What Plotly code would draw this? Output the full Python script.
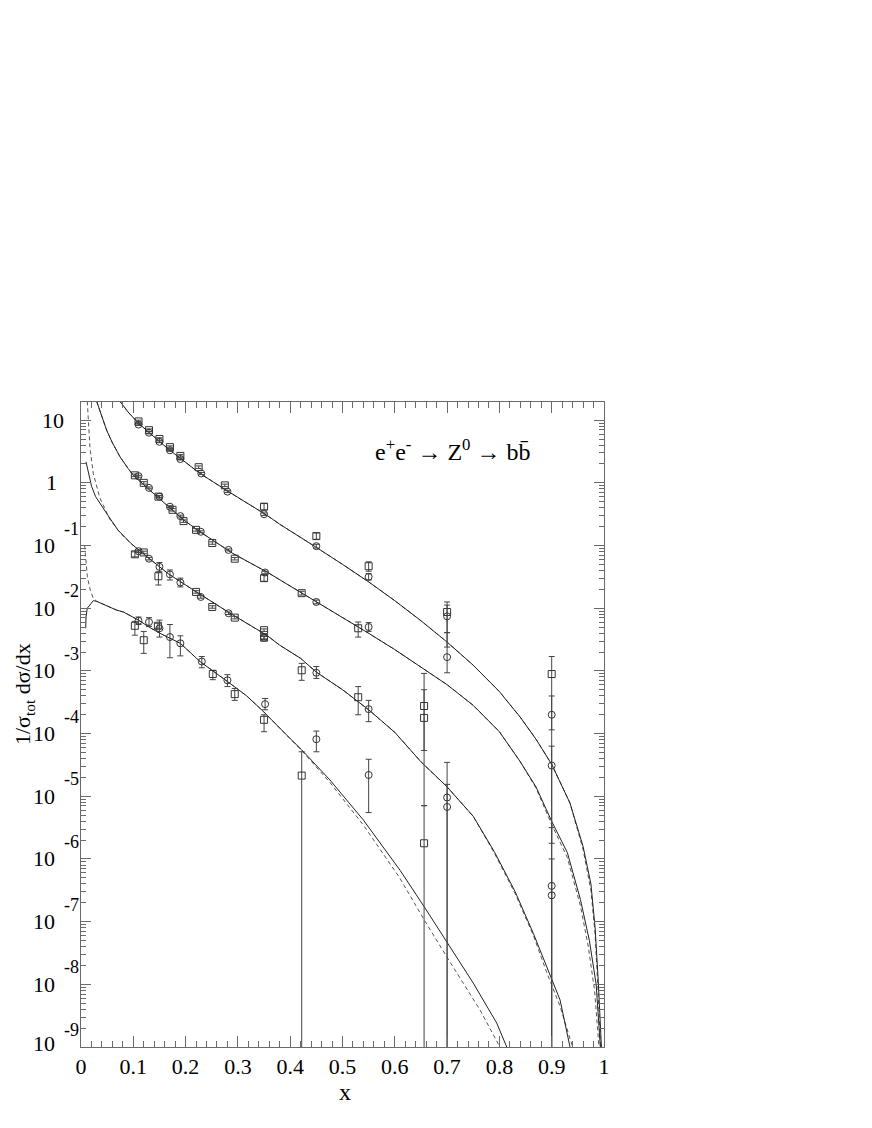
import numpy as np
import plotly.graph_objects as go

FONT = "Liberation Serif, Times New Roman, DejaVu Serif, serif"

# ---------------- MC curves: x and log10(1/sigma dsigma/dx) ----------------
curveA_x = [0.0746, 0.09, 0.11, 0.13, 0.15, 0.17, 0.19, 0.2275, 0.282, 0.355, 0.38, 0.419, 0.45, 0.50,
            0.55, 0.60, 0.65, 0.70, 0.75, 0.80, 0.84, 0.87, 0.90, 0.935, 0.96, 0.975, 0.983, 0.989, 0.995, 0.998]
curveA_logy = [1.30, 1.13, 0.95, 0.80, 0.66, 0.52, 0.39, 0.15, -0.14, -0.515, -0.66, -0.86, -1.03, -1.30,
               -1.58, -1.88, -2.20, -2.54, -2.91, -3.33, -3.74, -4.09, -4.49, -5.11, -5.80, -6.40, -7.10, -7.95, -9.0, -9.5]
curveA_dash_x = [0.0746, 0.09, 0.11, 0.13, 0.15, 0.17, 0.19, 0.2275, 0.282, 0.355, 0.38, 0.419, 0.45, 0.50,
                 0.55, 0.60, 0.65, 0.70, 0.75, 0.80, 0.84, 0.87, 0.90, 0.935, 0.96, 0.975, 0.983, 0.988, 0.993, 0.996]
curveA_dash_logy = [1.30, 1.13, 0.95, 0.80, 0.66, 0.52, 0.39, 0.15, -0.14, -0.515, -0.66, -0.86, -1.03, -1.30,
                    -1.58, -1.88, -2.20, -2.54, -2.91, -3.33, -3.74, -4.09, -4.49, -5.11, -5.85, -6.50, -7.20, -8.0, -9.0, -9.5]

curveB_x = [0.030, 0.04, 0.049, 0.06, 0.0746, 0.09, 0.10, 0.132, 0.164, 0.196, 0.2275, 0.26, 0.291, 0.355, 0.419,
            0.45, 0.50, 0.55, 0.60, 0.65, 0.70, 0.75, 0.80, 0.84, 0.87, 0.90, 0.93, 0.955, 0.972, 0.985, 0.993, 0.997]
curveB_logy = [1.30, 1.07, 0.84, 0.64, 0.415, 0.23, 0.12, -0.12, -0.36, -0.59, -0.78, -0.96, -1.13, -1.42, -1.74,
               -1.90, -2.15, -2.40, -2.66, -2.94, -3.22, -3.55, -3.97, -4.45, -4.85, -5.40, -5.90, -6.65, -7.30, -8.0, -9.0, -9.5]
curveB_dash_x = [0.030, 0.04, 0.049, 0.06, 0.0746, 0.09, 0.10, 0.132, 0.164, 0.196, 0.2275, 0.26, 0.291, 0.355, 0.419,
                 0.45, 0.50, 0.55, 0.60, 0.65, 0.70, 0.75, 0.80, 0.84, 0.87, 0.90, 0.93, 0.955, 0.970, 0.982, 0.990, 0.995]
curveB_dash_logy = [1.30, 1.07, 0.84, 0.64, 0.415, 0.23, 0.12, -0.12, -0.36, -0.59, -0.78, -0.96, -1.13, -1.42, -1.74,
                    -1.90, -2.15, -2.40, -2.66, -2.94, -3.22, -3.55, -3.97, -4.45, -4.87, -5.45, -5.98, -6.75, -7.40, -8.1, -9.0, -9.5]

curveC_x = [0.0096, 0.015, 0.0204, 0.028, 0.036, 0.05, 0.0707, 0.096, 0.122, 0.151, 0.166, 0.215, 0.285, 0.355,
            0.38, 0.42, 0.45, 0.50, 0.55, 0.60, 0.65, 0.70, 0.75, 0.79, 0.83, 0.865, 0.89, 0.916, 0.935, 0.94]
curveC_logy = [0.335, 0.12, -0.06, -0.22, -0.33, -0.50, -0.754, -0.97, -1.15, -1.34, -1.445, -1.71, -2.08, -2.43,
               -2.59, -2.80, -3.02, -3.30, -3.62, -3.98, -4.45, -4.85, -5.32, -5.88, -6.52, -7.19, -7.72, -8.25, -9.0, -9.3]
curveC_dash_x = [0.012, 0.014, 0.0172, 0.0235, 0.036, 0.055, 0.075, 0.096, 0.122, 0.151, 0.166, 0.215, 0.285, 0.355,
                 0.38, 0.42, 0.45, 0.50, 0.55, 0.60, 0.65, 0.70, 0.75, 0.79, 0.83, 0.865, 0.89, 0.916, 0.94, 0.945]
curveC_dash_logy = [1.30, 0.95, 0.55, 0.15, -0.24, -0.58, -0.80, -0.97, -1.15, -1.34, -1.445, -1.71, -2.08, -2.43,
                    -2.59, -2.80, -3.02, -3.30, -3.62, -3.98, -4.45, -4.85, -5.32, -5.90, -6.55, -7.22, -7.80, -8.35, -9.0, -9.3]

curveD_x = [0.009, 0.0096, 0.012, 0.0204, 0.0235, 0.03, 0.046, 0.068, 0.081, 0.11, 0.132, 0.151, 0.19, 0.2275,
            0.285, 0.317, 0.349, 0.38, 0.40, 0.422, 0.476, 0.54, 0.61, 0.656, 0.703, 0.75, 0.795, 0.814, 0.82]
curveD_logy = [-2.32, -2.14, -2.00, -1.90, -1.88, -1.89, -1.95, -2.03, -2.06, -2.19, -2.31, -2.40, -2.56, -2.85,
               -3.20, -3.40, -3.65, -3.92, -4.08, -4.26, -4.74, -5.38, -6.18, -6.76, -7.37, -7.98, -8.62, -9.0, -9.2]
curveD_dash_x = [0.007, 0.0085, 0.0122, 0.018, 0.0235, 0.03, 0.046, 0.068, 0.081, 0.11, 0.132, 0.151, 0.19, 0.2275,
                 0.285, 0.317, 0.349, 0.38, 0.40, 0.422, 0.476, 0.54, 0.61, 0.656, 0.703, 0.763, 0.801, 0.81]
curveD_dash_logy = [-1.00, -1.15, -1.50, -1.72, -1.84, -1.89, -1.95, -2.03, -2.06, -2.19, -2.31, -2.40, -2.56, -2.85,
                    -3.20, -3.40, -3.65, -3.92, -4.08, -4.27, -4.78, -5.46, -6.31, -6.97, -7.61, -8.41, -9.0, -9.2]

# ---------------- data points (log10 of value, upper and lower error ends) ----------------
sq_x = [0.11, 0.13, 0.15, 0.17, 0.19, 0.225, 0.275, 0.35, 0.45, 0.55, 0.70, 0.90,
        0.103, 0.12, 0.148, 0.175, 0.196, 0.22, 0.251, 0.294, 0.35, 0.422, 0.53, 0.656,
        0.103, 0.12, 0.148, 0.22, 0.251, 0.294, 0.35, 0.35, 0.422, 0.53, 0.656,
        0.103, 0.12, 0.147, 0.252, 0.294, 0.35, 0.422, 0.656]
sq_logy = [0.98, 0.84, 0.70, 0.57, 0.43, 0.25, -0.04, -0.38, -0.85, -1.33, -2.06, -3.05,
           0.12, 0.00, -0.22, -0.43, -0.61, -0.75, -0.96, -1.21, -1.52, -1.76, -2.32, -3.56,
           -1.14, -1.11, -1.49, -1.74, -1.98, -2.15, -2.35, -2.47, -2.99, -3.42, -3.75,
           -2.28, -2.51, -2.28, -3.05, -3.37, -3.78, -4.67, -5.75]
sq_loghi = [1.00, 0.86, 0.72, 0.59, 0.45, 0.27, -0.02, -0.33, -0.80, -1.26, -1.90, -2.77,
            0.14, 0.02, -0.20, -0.41, -0.59, -0.73, -0.94, -1.19, -1.47, -1.73, -2.22, -3.04,
            -1.10, -1.09, -1.42, -1.72, -1.96, -2.13, -2.33, -2.45, -2.88, -3.25, -3.30,
            -2.21, -2.37, -2.24, -2.99, -3.28, -3.70, -4.29, -5.15]
sq_loglo = [0.96, 0.82, 0.68, 0.55, 0.41, 0.23, -0.06, -0.43, -0.90, -1.41, -2.62, -12,
            0.10, -0.02, -0.24, -0.45, -0.63, -0.77, -0.98, -1.23, -1.57, -1.79, -2.46, -4.27,
            -1.18, -1.13, -1.63, -1.76, -2.00, -2.17, -2.37, -2.49, -3.15, -3.70, -5.15,
            -2.43, -2.72, -2.32, -3.14, -3.47, -3.97, -12, -12]

ci_x = [0.11, 0.13, 0.15, 0.17, 0.19, 0.23, 0.28, 0.35, 0.45, 0.55, 0.70, 0.90,
        0.11, 0.13, 0.15, 0.17, 0.19, 0.229, 0.282, 0.352, 0.45, 0.55, 0.70, 0.90,
        0.11, 0.13, 0.15, 0.17, 0.19, 0.229, 0.282, 0.35, 0.45, 0.55, 0.70, 0.90,
        0.11, 0.13, 0.15, 0.17, 0.19, 0.231, 0.28, 0.352, 0.45, 0.55, 0.70, 0.90]
ci_logy = [0.93, 0.80, 0.655, 0.52, 0.38, 0.15, -0.14, -0.50, -1.01, -1.50, -2.13, -3.70,
           0.107, -0.08, -0.22, -0.38, -0.53, -0.78, -1.07, -1.43, -1.90, -2.30, -2.78, -4.51,
           -1.09, -1.21, -1.34, -1.46, -1.59, -1.82, -2.08, -2.47, -3.03, -3.61, -5.02, -6.43,
           -2.20, -2.22, -2.32, -2.46, -2.56, -2.85, -3.15, -3.53, -4.09, -4.66, -5.17, -6.58]
ci_loghi = [0.945, 0.815, 0.67, 0.535, 0.395, 0.165, -0.125, -0.48, -0.98, -1.45, -1.95, -3.40,
            0.12, -0.065, -0.205, -0.365, -0.515, -0.765, -1.055, -1.41, -1.87, -2.23, -2.39, -4.20,
            -1.07, -1.19, -1.27, -1.39, -1.52, -1.80, -2.06, -2.44, -2.93, -3.47, -4.46, -5.50,
            -2.14, -2.15, -2.19, -2.26, -2.44, -2.77, -3.06, -3.44, -3.96, -4.41, -4.81, -6.00]
ci_loglo = [0.915, 0.785, 0.64, 0.505, 0.365, 0.135, -0.155, -0.52, -1.04, -1.55, -2.39, -3.94,
            0.09, -0.095, -0.235, -0.395, -0.545, -0.795, -1.085, -1.45, -1.93, -2.37, -3.03, -5.75,
            -1.11, -1.23, -1.42, -1.55, -1.66, -1.84, -2.10, -2.50, -3.12, -3.81, -12, -12,
            -2.26, -2.29, -2.46, -2.79, -2.76, -2.95, -3.25, -3.62, -4.29, -5.26, -12, -12]

# y-axis decade ticks
decades = list(range(-9, 2))

LINE = "#222222"
DASH = "#555555"
AX = "#6a6a6a"

# the page body has an 8 px margin; plot area wanted at x 81..604, y 402..1047 of the window
OFF = 8
L, T, PW, PH = 81 - OFF, 402 - OFF, 523, 645

fig = go.Figure()

curves = [
    (curveA_dash_x, curveA_dash_logy, True), (curveA_x, curveA_logy, False),
    (curveB_dash_x, curveB_dash_logy, True), (curveB_x, curveB_logy, False),
    (curveC_dash_x, curveC_dash_logy, True), (curveC_x, curveC_logy, False),
    (curveD_dash_x, curveD_dash_logy, True), (curveD_x, curveD_logy, False),
]
for cx, cly, dashed in curves:
    fig.add_trace(go.Scatter(
        x=cx, y=10 ** np.array(cly), mode="lines",
        line=dict(color=DASH if dashed else LINE, width=1, dash="4px,3px" if dashed else "solid"),
        showlegend=False, hoverinfo="skip"))


def add_points(px, ply, phi, plo, symbol):
    y = 10 ** np.array(ply)
    hi = 10 ** np.array(phi) - y
    lo = y - 10 ** np.array(plo)
    fig.add_trace(go.Scatter(
        x=px, y=y, mode="markers",
        marker=dict(symbol=symbol, size=7, color="#333333", line=dict(width=1, color="#333333")),
        error_y=dict(type="data", symmetric=False, array=hi, arrayminus=lo,
                     color="#444444", thickness=1, width=3),
        showlegend=False))


add_points(sq_x, sq_logy, sq_loghi, sq_loglo, "square-open")
add_points(ci_x, ci_logy, ci_loghi, ci_loglo, "circle-open")


def px_x(p):
    """window pixel x -> paper x"""
    return (p - 81) / PW


def px_y(p):
    """window pixel y -> paper y"""
    return (1047 - p) / PH


annotations = []
for k in decades:
    if k == 1:
        annotations.append(dict(x=px_x(53), y=k, xref="paper", yref="y", text="10",
                                xanchor="center", yanchor="middle", showarrow=False,
                                font=dict(family=FONT, size=22, color="black")))
    elif k == 0:
        annotations.append(dict(x=px_x(51), y=k, xref="paper", yref="y", text="1",
                                xanchor="center", yanchor="middle", showarrow=False,
                                font=dict(family=FONT, size=22, color="black")))
    else:
        annotations.append(dict(x=px_x(44), y=k, xref="paper", yref="y", text="10",
                                xanchor="center", yanchor="middle", showarrow=False,
                                yshift=4 if k == -9 else 0,
                                font=dict(family=FONT, size=22, color="black")))
        annotations.append(dict(x=px_x(71.5), y=k, xref="paper", yref="y", text=str(k),
                                xanchor="center", yanchor="middle", showarrow=False, yshift=17,
                                font=dict(family=FONT, size=18, color="black")))

annotations.append(dict(x=px_x(24), y=px_y(694), xref="paper", yref="paper",
                        text="1/σ<sub>tot</sub> dσ/dx", textangle=-90, showarrow=False,
                        xanchor="center", yanchor="middle",
                        font=dict(family=FONT, size=22, color="black")))
annotations.append(dict(x=px_x(345), y=px_y(1092), xref="paper", yref="paper",
                        text="x", showarrow=False, xanchor="center", yanchor="middle",
                        font=dict(family=FONT, size=24, color="black")))
annotations.append(dict(x=px_x(452), y=px_y(450), xref="paper", yref="paper",
                        text="e<sup>+</sup>e<sup>-</sup> → Z<sup>0</sup> → bb\u0304",
                        showarrow=False, xanchor="center", yanchor="middle",
                        font=dict(family=FONT, size=24, color="black")))

fig.update_layout(
    width=872, height=1128,
    margin=dict(l=L, r=872 - L - PW, t=T, b=1128 - T - PH),
    paper_bgcolor="white", plot_bgcolor="white",
    showlegend=False,
    annotations=annotations,
    xaxis=dict(range=[0, 1], tick0=0, dtick=0.1, ticks="inside", ticklen=11, tickwidth=1,
               tickcolor=AX, showline=True, linecolor=AX, linewidth=1, mirror="allticks",
               showgrid=False, zeroline=False,
               tickfont=dict(family=FONT, size=22, color="black"), ticklabelstandoff=0,
               minor=dict(ticks="inside", ticklen=6, tickwidth=1, tickcolor=AX, dtick=0.02, showgrid=False)),
    yaxis=dict(type="log", range=[-9, 1.29], tick0=0, dtick=1, ticks="inside", ticklen=10, tickwidth=1,
               tickcolor=AX, showline=True, linecolor=AX, linewidth=1, mirror="allticks",
               showgrid=False, zeroline=False, showticklabels=False,
               minor=dict(ticks="inside", ticklen=5, tickwidth=1, tickcolor=AX, dtick="D1", showgrid=False)),
)

fig.write_html("out.html")
